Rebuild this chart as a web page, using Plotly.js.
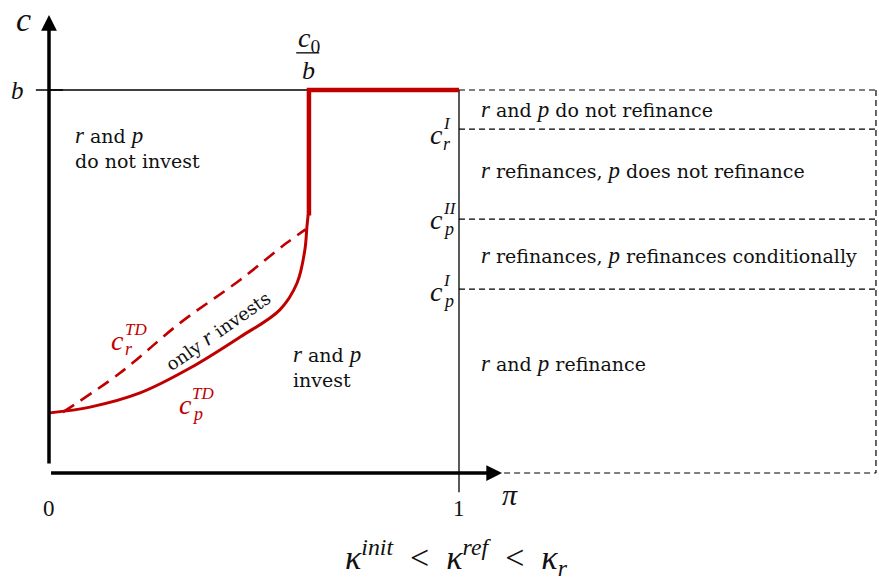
<!DOCTYPE html>
<html>
<head>
<meta charset="utf-8">
<script src="https://cdn.plot.ly/plotly-3.0.1.min.js"></script>
<style>html,body{margin:0;padding:0;background:#fff}#chart{width:879px;height:581px}</style>
</head>
<body>
<div id="chart"></div>
<script>
// Schematic: investment / refinancing regions in (pi, c) space.
// b is normalised to 1, pi runs 0..1; right panel lists the refinancing cut-offs.

const B = 1;
const PI_BAR = 0.634;      // c0/b : where the red boundary jumps to b
const C_JUMP = 0.672;      // bottom of the vertical red segment

// c_p^TD (solid red)
const cpX = [0.002, 0.100, 0.222, 0.344, 0.466, 0.563, 0.605, 0.624, 0.629, 0.632];
const cpY = [0.157, 0.172, 0.209, 0.274, 0.355, 0.426, 0.496, 0.582, 0.642, 0.674];

// c_r^TD (dashed red)
const crX = [0.034, 0.173, 0.320, 0.466, 0.580, 0.626];
const crY = [0.159, 0.261, 0.392, 0.504, 0.601, 0.636];

// right panel cut-offs (top to bottom) and their labels
const cutLevels = [B, 0.898, 0.663, 0.480, 0];
const cutLabels = [
  { sup: 'I', sub: 'r' },
  { sup: 'II', sub: 'p' },
  { sup: 'I', sub: 'p' },
];
const MATH = 'Liberation Serif';
const v = (s) => `<span style="font-family:${MATH};font-size:23px"><i>${s}</i></span>`;
const regionText = [
  `${v('r')} and ${v('p')} do not refinance`,
  `${v('r')} refinances, ${v('p')} does not refinance`,
  `${v('r')} refinances, ${v('p')} refinances conditionally`,
  `${v('r')} and ${v('p')} refinance`,
];
const regionY = [0.950, 0.791, 0.567, 0.285];
const RIGHT_EDGE = 2.017;

const RED = '#c00000';
const FONT = { family: 'DejaVu Serif, Liberation Serif, serif', size: 19, color: '#111' };
const MFONT = { family: MATH, color: '#111' };

const traces = [
  // black b line up to the jump
  { x: [0, PI_BAR], y: [B, B], mode: 'lines', line: { color: '#000', width: 1.3 } },
  // vertical line at pi = 1
  { x: [1, 1], y: [B, -0.05], mode: 'lines', line: { color: '#000', width: 1.3 } },
  // right-panel dashed grid
  ...cutLevels.map((c) => ({
    x: [c === 0 ? 1.11 : 1, RIGHT_EDGE], y: [c, c], mode: 'lines',
    line: { color: '#000', width: 1.2, dash: '6px,4px' },
  })),
  { x: [RIGHT_EDGE, RIGHT_EDGE], y: [B, 0], mode: 'lines',
    line: { color: '#000', width: 1.2, dash: '6px,4px' } },
  // y-axis tick at b
  { x: [-0.032, 0.034], y: [B, B], mode: 'lines', line: { color: '#000', width: 1.5 } },
  // c_r^TD dashed
  { x: crX, y: crY, mode: 'lines', line: { color: RED, width: 2.6, dash: '13px,8px', shape: 'spline' } },
  // c_p^TD solid
  { x: cpX, y: cpY, mode: 'lines', line: { color: RED, width: 3, shape: 'spline' } },
  // thick red step
  { x: [PI_BAR, PI_BAR, 1], y: [C_JUMP, B, B], mode: 'lines', line: { color: RED, width: 4.5 } },
];

const ann = [];
const txt = (x, y, text, extra = {}, base = FONT) => ann.push({
  x, y, text, showarrow: false, ...extra, font: { ...base, ...(extra.font || {}) },
});
const mtxt = (x, y, text, extra = {}) => txt(x, y, text, extra, MFONT);
// c with stacked super/subscript
const mathC = (x, y, sup, sub, color = '#111') => {
  mtxt(x, y, '<i>c</i>', { font: { size: 28, color } });
  mtxt(x, y, `<i>${sup}</i>`, { xanchor: 'left', xshift: 5, yshift: 11, font: { size: 17, color } });
  mtxt(x, y, `<i>${sub}</i>`, { xanchor: 'left', xshift: 5, yshift: -9, font: { size: 18, color } });
};

// axes arrows
ann.push({ x: 0, y: 1.196, ax: 0, ay: -0.008, axref: 'x', ayref: 'y', xref: 'x', yref: 'y',
  text: ' ', showarrow: true, arrowhead: 2, arrowsize: 0.9, arrowwidth: 3.5, arrowcolor: '#000' });
ann.push({ x: 1.105, y: 0, ax: -0.006, ay: 0, axref: 'x', ayref: 'y', xref: 'x', yref: 'y',
  text: ' ', showarrow: true, arrowhead: 2, arrowsize: 0.9, arrowwidth: 3.5, arrowcolor: '#000' });

mtxt(-0.063, 1.183, '<i>c</i>', { font: { size: 34 } });
mtxt(-0.076, B, '<i>b</i>', { font: { size: 25 } });
mtxt(PI_BAR, 1.131, '<i>c</i><sub>0</sub>', { font: { size: 28 } });
mtxt(PI_BAR, 1.050, '<i>b</i>', { font: { size: 26 } });
mtxt(0, -0.093, '0', { font: { size: 23 } });
mtxt(1, -0.093, '1', { font: { size: 23 } });
mtxt(1.124, -0.055, '<i>π</i>', { font: { size: 30 } });

txt(0.0585, 0.851, `${v('r')} and ${v('p')}<br>do not invest`, { xanchor: 'left', align: 'left' });
txt(0.590, 0.277, `${v('r')} and ${v('p')}<br>invest`, { xanchor: 'left', align: 'left' });
txt(0.41, 0.373, `only ${v('r')} invests`, { textangle: -35, font: { size: 18 } });

mathC(0.168, 0.347, 'TD', 'r', RED);
mathC(0.332, 0.178, 'TD', 'p', RED);
const cutLabelY = [0.883, 0.661, 0.473];
cutLabels.forEach((l, i) => mathC(0.945, cutLabelY[i], l.sup, l.sub));
regionText.forEach((t, i) => txt(1.048, regionY[i], t, { xanchor: 'left' }));

mtxt(0.993, -0.22,
  '<i>κ</i><sup><i>init</i></sup>  <  <i>κ</i><sup><i>ref</i></sup>  <  <i>κ</i><sub><i>r</i></sub>',
  { font: { size: 34 } });

const layout = {
  width: 879, height: 581,
  margin: { l: 0, r: 0, t: 0, b: 0 },
  paper_bgcolor: '#fff', plot_bgcolor: '#fff',
  showlegend: false,
  xaxis: { range: [-49 / 410, 830 / 410], visible: false, fixedrange: true },
  yaxis: { range: [-108 / 383, 473 / 383], visible: false, fixedrange: true },
  shapes: [
    { type: 'line', xref: 'x', yref: 'y', x0: 0.603, x1: 0.659, y0: 1.097, y1: 1.097,
      line: { color: '#000', width: 1.3 } },
  ],
  annotations: ann,
  font: FONT,
};
traces.forEach((t) => { t.hoverinfo = 'skip'; });
Plotly.newPlot('chart', traces, layout, { displayModeBar: false, staticPlot: true });
</script>
</body>
</html>
